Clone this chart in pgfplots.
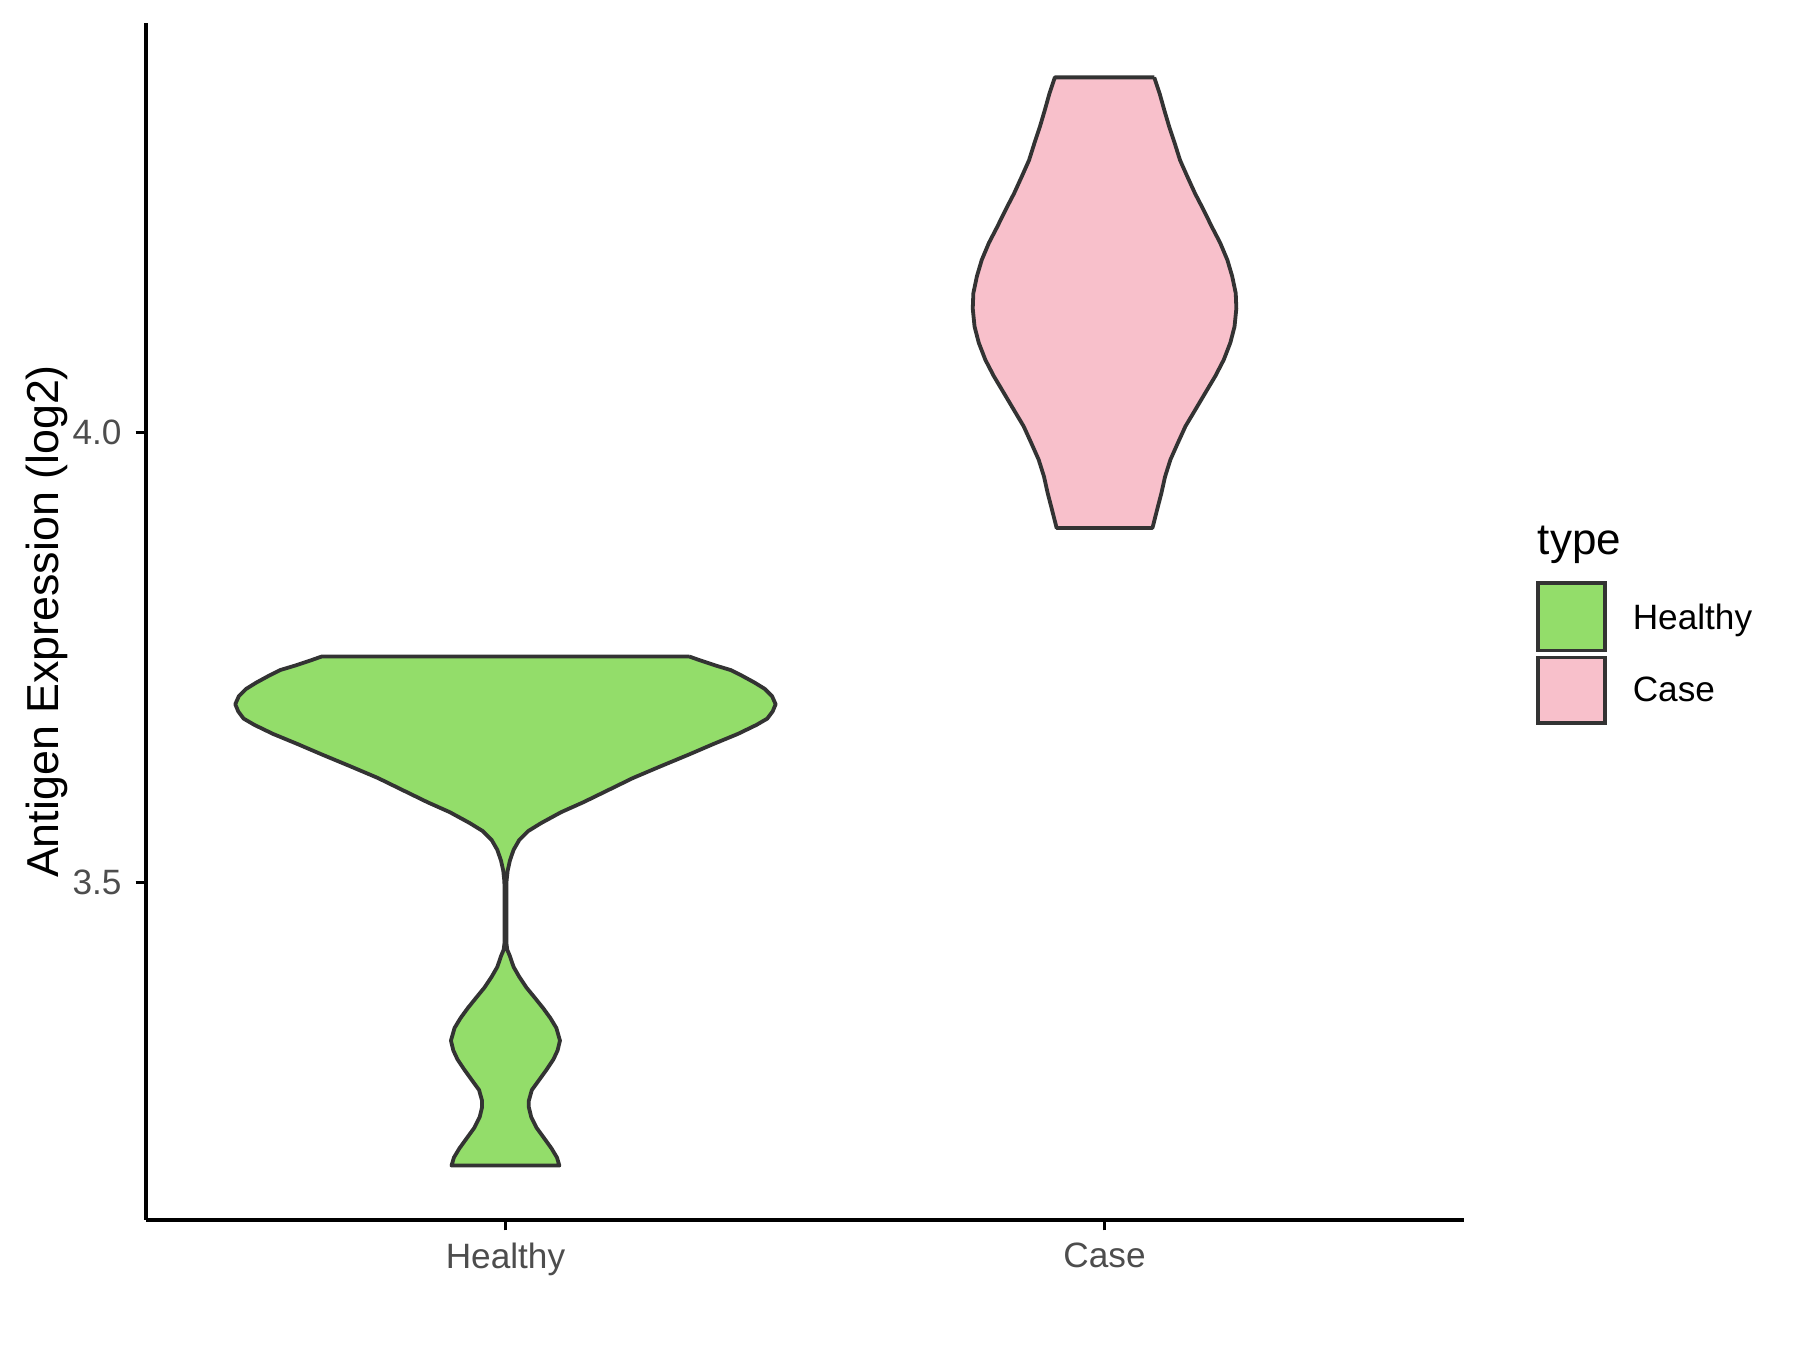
\documentclass[border=0pt]{standalone}
\usepackage{fontspec}
\setmainfont{Liberation Sans}
\usepackage{pgfplots}
\pgfplotsset{compat=1.18}
\definecolor{hgreen}{RGB}{147,221,106}
\definecolor{cpink}{RGB}{248,192,203}
\definecolor{outl}{RGB}{51,51,51}
\definecolor{tickgrey}{RGB}{77,77,77}
\begin{document}
\begin{tikzpicture}
\begin{axis}[
  width=329.5pt, height=299.25pt, scale only axis,
  xmin=0.4, xmax=2.6, ymin=3.1245, ymax=4.4555,
  axis x line*=bottom, axis y line*=left,
  axis line style={line width=0.85pt, black, -},
  xtick={1,2}, xticklabels={Healthy,Case},
  ytick={3.5,4.0},
  y tick label style={/pgf/number format/.cd, fixed, fixed zerofill, precision=1},
  /pgf/number format/assume math mode=true,
  tick style={line width=0.85pt, black},
  tick align=outside, major tick length=2.6pt,
  tick label style={font=\fontsize{8.8}{10}\selectfont, text=tickgrey},
  x tick label style={yshift=0.4pt},
  ylabel={Antigen Expression (log2)},
  ylabel style={at={(axis description cs:-0.075,0.5)}, anchor=center, font=\fontsize{11.2}{13}\selectfont},
  clip=false,
]
\addplot[fill=hgreen, draw=outl, line width=0.95pt, line join=round] coordinates {
(1.307,3.751) (1.324,3.747) (1.351,3.741) (1.376,3.736) (1.394,3.730) (1.416,3.722)
(1.433,3.715) (1.445,3.707) (1.451,3.698) (1.446,3.690) (1.437,3.682) (1.419,3.675)
(1.388,3.665) (1.348,3.654) (1.306,3.642) (1.259,3.629) (1.213,3.616) (1.170,3.602)
(1.130,3.589) (1.093,3.578) (1.060,3.566) (1.038,3.557) (1.023,3.547) (1.0135,3.536)
(1.0074,3.524) (1.0037,3.513) (1.0018,3.501) (1.0015,3.482) (1.0015,3.433) (1.003,3.425)
(1.0074,3.418) (1.0135,3.406) (1.023,3.395) (1.035,3.383) (1.0485,3.372) (1.063,3.360)
(1.075,3.349) (1.085,3.338) (1.091,3.324) (1.087,3.313) (1.080,3.303) (1.069,3.292)
(1.056,3.280) (1.044,3.269) (1.039,3.257) (1.039,3.250) (1.043,3.239) (1.052,3.227)
(1.064,3.216) (1.077,3.204) (1.086,3.194) (1.090,3.185)
(0.910,3.185) (0.914,3.194) (0.923,3.204) (0.936,3.216) (0.948,3.227) (0.957,3.239)
(0.961,3.250) (0.961,3.257) (0.956,3.269) (0.944,3.280) (0.931,3.292) (0.920,3.303)
(0.913,3.313) (0.909,3.324) (0.915,3.338) (0.925,3.349) (0.937,3.360) (0.9515,3.372)
(0.965,3.383) (0.977,3.395) (0.9865,3.406) (0.9926,3.418) (0.997,3.425) (0.9985,3.433)
(0.9985,3.482) (0.9982,3.501) (0.9963,3.513) (0.9926,3.524) (0.9865,3.536) (0.977,3.547)
(0.962,3.557) (0.940,3.566) (0.907,3.578) (0.870,3.589) (0.830,3.602) (0.787,3.616)
(0.741,3.629) (0.694,3.642) (0.652,3.654) (0.612,3.665) (0.581,3.675) (0.563,3.682)
(0.554,3.690) (0.549,3.698) (0.555,3.707) (0.567,3.715) (0.584,3.722) (0.606,3.730)
(0.624,3.736) (0.649,3.741) (0.676,3.747) (0.693,3.751) (1.307,3.751)
};
\addplot[fill=cpink, draw=outl, line width=0.95pt, line join=round] coordinates {
(2.083,4.395) (2.092,4.377) (2.100,4.358) (2.108,4.340) (2.117,4.322) (2.126,4.303)
(2.138,4.285) (2.151,4.266) (2.165,4.248) (2.179,4.229) (2.193,4.211) (2.205,4.192)
(2.213,4.174) (2.219,4.155) (2.220,4.138) (2.217,4.118) (2.210,4.100) (2.199,4.081)
(2.185,4.063) (2.168,4.044) (2.152,4.026) (2.135,4.007) (2.122,3.988) (2.110,3.970)
(2.101,3.951) (2.095,3.933) (2.088,3.915) (2.080,3.894)
(1.920,3.894) (1.912,3.915) (1.905,3.933) (1.899,3.951) (1.890,3.970) (1.878,3.988)
(1.865,4.007) (1.848,4.026) (1.832,4.044) (1.815,4.063) (1.801,4.081) (1.790,4.100)
(1.783,4.118) (1.780,4.138) (1.781,4.155) (1.787,4.174) (1.795,4.192) (1.807,4.211)
(1.821,4.229) (1.835,4.248) (1.849,4.266) (1.862,4.285) (1.874,4.303) (1.883,4.322)
(1.892,4.340) (1.900,4.358) (1.908,4.377) (1.917,4.395) (2.083,4.395)
};
\end{axis}
\coordinate (O) at (current axis.south west);
\node[anchor=base west, inner sep=0pt, font=\fontsize{11}{13}\selectfont] at ([shift={(347.75pt,166.25pt)}]O) {type};
\draw[fill=hgreen, draw=outl, line width=0.9pt] ([shift={(348pt,142.4pt)}]O) rectangle ([shift={(364.75pt,159.25pt)}]O);
\draw[fill=cpink, draw=outl, line width=0.9pt] ([shift={(348pt,124.25pt)}]O) rectangle ([shift={(364.75pt,140.6pt)}]O);
\node[anchor=base west, inner sep=0pt, font=\fontsize{8.8}{10}\selectfont] at ([shift={(371.5pt,147.5pt)}]O) {Healthy};
\node[anchor=base west, inner sep=0pt, font=\fontsize{8.8}{10}\selectfont] at ([shift={(371.5pt,129.5pt)}]O) {Case};
\pgfresetboundingbox
\path ([shift={(-36.5pt,-32.5pt)}]O) rectangle ([shift={(413.5pt,305pt)}]O);
\end{tikzpicture}
\end{document}
